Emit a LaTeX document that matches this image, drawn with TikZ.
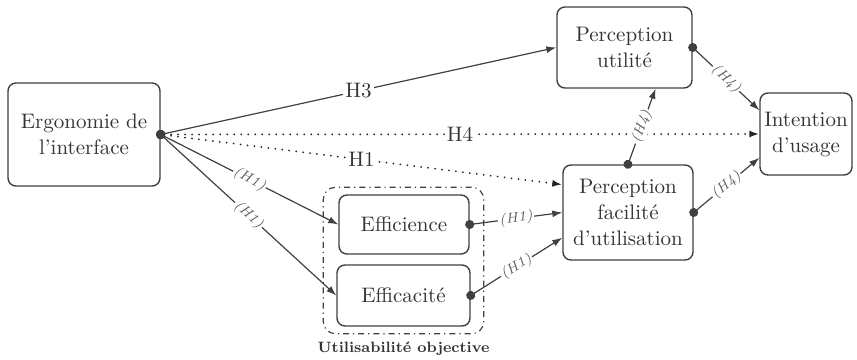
\documentclass[tikz,border=0pt]{standalone}
\usetikzlibrary{arrows.meta,fit,positioning}
\begin{document}
\begin{tikzpicture}[x=0.5pt,y=0.5pt,
	box/.style={draw=black!75,line width=0.7pt,rounded corners=4pt,inner sep=0pt,align=center,text=black!80,font=\fontsize{10.5}{13}\selectfont},
	link/.style={draw=black!75,line width=0.6pt,shorten <=-2.25pt,{Circle[length=4.5pt]}-{Latex[length=5pt,width=3.5pt]}},
	dots/.style={draw=black!85,line width=1pt,line cap=round,dash pattern=on 0pt off 3.5pt},
	hyp/.style={fill=white,inner sep=1pt,font=\fontsize{10.5}{12}\selectfont,text=black!80},
	shyp/.style={fill=white,inner sep=0.5pt,sloped,font=\itshape\fontsize{7}{8}\selectfont,text=black!65}]
	\useasboundingbox (0,0) rectangle (857,359);
	\node[box,minimum width=76pt,minimum height=51.5pt] (erg) at (84,224.5) {Ergonomie de\\l'interface};
	\node[box,minimum width=67.5pt,minimum height=40.5pt] (pu) at (624.5,311.5) {Perception\\utilité};
	\node[box,minimum width=46pt,minimum height=41pt] (int) at (806,225) {Intention\\d'usage};
	\node[box,minimum width=65pt,minimum height=47.5pt] (pf) at (628,146.5) {Perception\\facilité\\d'utilisation};
	\node[box,minimum width=65pt,minimum height=29.5pt] (eff) at (404,134.5) {Efficience};
	\node[box,minimum width=66.5pt,minimum height=30.5pt] (efc) at (403.5,63.5) {Efficacité};
	\node[draw=black!75,line width=0.6pt,dash dot,rounded corners=6pt,inner xsep=6.5pt,inner ysep=3.5pt,fit=(eff)(efc)] (grp) {};
	\node[below=0.5pt of grp,font=\bfseries\fontsize{7.5}{9}\selectfont,text=black!80] (grplbl) {Utilisabilité objective};
	\draw[link] (erg.east) -- node[hyp] {H3} (pu.west);
	\draw[link,dots] (erg.east) -- node[hyp] {H4} (int.west);
	\draw[link,dots] (erg.east) -- node[hyp] {H1} (pf.157);
	\draw[link] (erg.east) -- node[shyp] {(H1)} (eff.west);
	\draw[link] (erg.east) -- node[shyp] {(H1)} (efc.west);
	\draw[link] (eff.east) -- node[shyp] {(H1)} (pf.west);
	\draw[link] (efc.east) -- node[shyp] {(H1)} (pf.201);
	\draw[link] (pf.north) -- node[shyp] {(H4)} (pu.307);
	\draw[link] (pu.east) -- node[shyp] {(H4)} (int.153);
	\draw[link] (pf.east) -- node[shyp] {(H4)} (int.207);
\end{tikzpicture}
\end{document}
